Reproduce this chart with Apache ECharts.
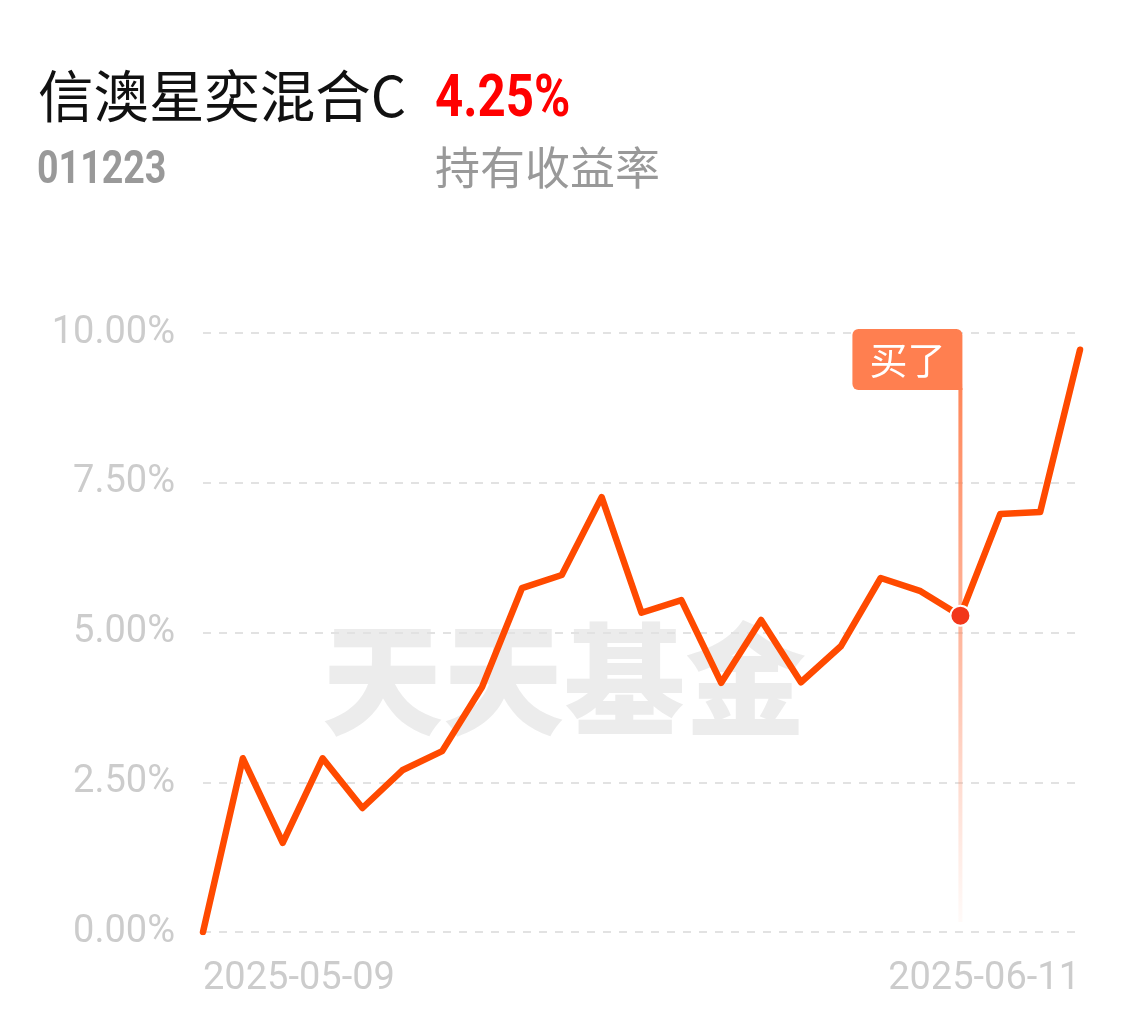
<!DOCTYPE html>
<html><head><meta charset="utf-8">
<script src="https://cdn.jsdelivr.net/npm/echarts@6/dist/echarts.min.js"></script>
<style>html,body{margin:0;padding:0;background:#fff;}#c{width:1135px;height:1022px;}</style>
</head><body><div id="c"></div>
<script>
var fundName = '信澳星奕混合C';
var fundCode = '011223';
var holdReturn = '4.25%';
var holdLabel = '持有收益率';
var watermark = '天天基金';
var buyLabel = '买了';
var dates = ['2025-05-09','2025-05-12','2025-05-13','2025-05-14','2025-05-15','2025-05-16',
  '2025-05-19','2025-05-20','2025-05-21','2025-05-22','2025-05-23',
  '2025-05-26','2025-05-27','2025-05-28','2025-05-29','2025-05-30',
  '2025-06-03','2025-06-04','2025-06-05','2025-06-06','2025-06-09','2025-06-10','2025-06-11'];
var values = [0, 2.90, 1.49, 2.90, 2.07, 2.70, 3.02, 4.09, 5.74, 5.96, 7.26,
  5.33, 5.54, 4.16, 5.21, 4.17, 4.77, 5.91, 5.69, 5.28, 6.98, 7.01, 9.72];
var buyIndex = 19;
var yTicks = [0, 2.5, 5, 7.5, 10];

var chart = echarts.init(document.getElementById('c'), null, {renderer:'canvas'});
var option = {
  backgroundColor: '#fff',
  animation: false,
  grid: {left: 203, right: 55, top: 333, bottom: 90},
  xAxis: {
    type: 'category', data: dates, boundaryGap: false,
    axisLine: {show: false}, axisTick: {show: false}, splitLine: {show: false},
    axisLabel: {
      interval: function(i){ return i === 0 || i === dates.length - 1; },
      color: '#cccccc', fontSize: 38, fontFamily: 'Roboto', margin: 28,
      alignMinLabel: 'left', alignMaxLabel: 'right'
    }
  },
  yAxis: {
    type: 'value', min: yTicks[0], max: yTicks[yTicks.length-1], interval: 2.5,
    axisLine: {show: false}, axisTick: {show: false},
    axisLabel: {color: '#cccccc', fontSize: 38, fontFamily: 'Roboto', margin: 28,
      formatter: function(v){ return v.toFixed(2) + '%'; }},
    splitLine: {lineStyle: {color: '#e2e2e2', type: [8, 8], width: 2}}
  },
  series: [{
    type: 'line', data: values, symbol: 'none', z: 5,
    lineStyle: {color: '#ff4a00', width: 6.5, join: 'round', cap: 'round'},
    markPoint: {
      symbol: 'circle', symbolSize: 20, z: 10,
      itemStyle: {color: '#f2361a', borderColor: '#fff', borderWidth: 2},
      label: {show: false},
      data: [{coord: [buyIndex, values[buyIndex]]}]
    }
  }],
  graphic: []
};
chart.setOption(option);

var pBuy = chart.convertToPixel({xAxisIndex:0, yAxisIndex:0}, [buyIndex, values[buyIndex]]);
var pTop = chart.convertToPixel({xAxisIndex:0, yAxisIndex:0}, [buyIndex, yTicks[yTicks.length-1]]);
var pBot = chart.convertToPixel({xAxisIndex:0, yAxisIndex:0}, [buyIndex, yTicks[0]]);
var boxTop = pTop[1] - 4, boxH = 61, boxW = 110;
var lineTop = boxTop + boxH;
var lineBot = pBot[1] - 10;

chart.setOption({graphic: [
  {type:'text', x: 38, y: 68, scaleX: 0.99, z: 1, style:{text: fundName, fill:'#111', font:'56px "Noto Sans CJK SC"'}},
  {type:'text', x: 435, y: 71, scaleX: 0.82, z: 1, style:{text: holdReturn, fill:'#ff0000', font:'bold 60px Roboto'}},
  {type:'text', x: 37, y: 148, scaleX: 0.8, z: 1, style:{text: fundCode, fill:'#999999', font:'bold 47px Roboto'}},
  {type:'text', x: 435, y: 145, z: 1, style:{text: holdLabel, fill:'#999999', font:'45px "Noto Sans CJK SC"'}},
  {type:'text', x: 322, y: 619, z: 0, silent: true, style:{text: watermark, fill:'#ececec', font:'900 121px "Noto Sans CJK SC"'}},
  {type:'rect', z: 3, shape:{x: pBuy[0]-2, y: lineTop-2, width: 4, height: lineBot - lineTop + 2},
    style:{fill: new echarts.graphic.LinearGradient(0,0,0,1,[
      {offset:0, color:'rgba(255,128,80,0.95)'},
      {offset:0.5, color:'rgba(255,140,100,0.6)'},
      {offset:1, color:'rgba(255,160,130,0.05)'}])}},
  {type:'rect', z: 4, shape:{x: pBuy[0]+2-boxW, y: boxTop, width: boxW, height: boxH, r:[6,6,0,6]},
    style:{fill:'#ff7f50'}},
  {type:'text', z: 5, x: pBuy[0]+2-boxW/2, y: boxTop + boxH/2,
    style:{text: buyLabel, fill:'#fff', font:'38px "Noto Sans CJK SC"', align:'center', verticalAlign:'middle'}}
]});
</script>
</body></html>
